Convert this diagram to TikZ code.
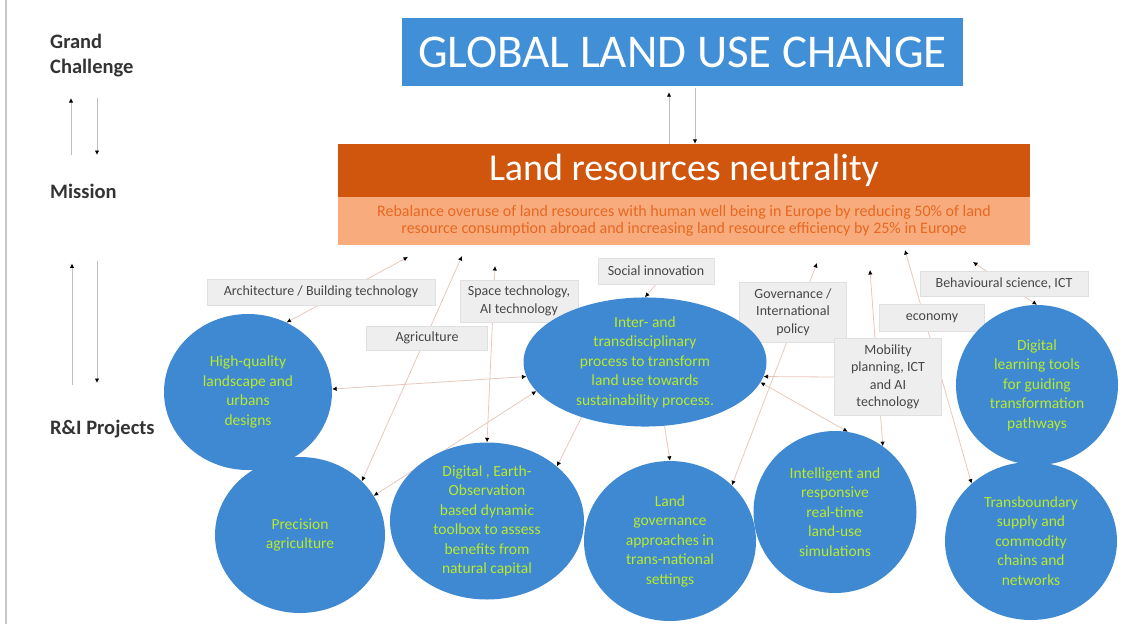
\documentclass[tikz,border=0pt]{standalone}
\usepackage{fontspec}
\setmainfont{Carlito}
\usetikzlibrary{arrows.meta,shapes.geometric,backgrounds}
\definecolor{chblue}{RGB}{65,143,215}
\definecolor{blobblue}{RGB}{62,137,209}
\definecolor{blobtext}{RGB}{186,234,44}
\definecolor{mdark}{RGB}{208,86,14}
\definecolor{mlight}{RGB}{248,172,125}
\definecolor{mtext}{RGB}{230,104,34}
\definecolor{tagfill}{RGB}{238,238,238}
\definecolor{tagline}{RGB}{224,224,224}
\definecolor{tagtext}{RGB}{70,70,70}
\definecolor{linkc}{RGB}{230,200,188}
\definecolor{barc}{RGB}{200,200,200}
\tikzset{
  lefttext/.style={font=\fontsize{20.5}{25}\selectfont\bfseries,text=black!80,inner sep=0pt,text height=14pt,text depth=4pt,align=left},
  tag/.style={rectangle,fill=tagfill,draw=tagline,text=tagtext,align=center,inner sep=2pt,font=\fontsize{14}{17.5}\selectfont},
  blob/.style={ellipse,fill=blobblue,text=blobtext,align=center,inner sep=0pt,font=\fontsize{15.5}{19.5}\selectfont},
  link/.style={draw=linkc,line width=0.8pt},
  lvl/.style={draw=black!25,line width=0.9pt},
  toend/.style={arrows={-Latex[length=4.5pt,width=4.5pt,black]}},
  ends/.style={arrows={Latex[length=4.5pt,width=4.5pt,black]-Latex[length=4.5pt,width=4.5pt,black]}},
}
\begin{document}
\begin{tikzpicture}[x=1pt,y=-1pt]
  \useasboundingbox (0,0) rectangle (1127,624);
  \draw[draw=barc,line width=2.5pt] (6,0) -- (6,624);

  \node[lefttext,anchor=south west] (gc) at (50,78) {Grand\\Challenge};
  \node[lefttext,anchor=north west] (mis) at (50,184) {Mission};
  \node[lefttext,anchor=north west] (ri) at (50,420) {R\&I Projects};
  \draw[lvl,toend,shorten <=29pt,shorten >=20pt] (mis.north -| 71,0) -- (gc.south -| 71,0);
  \draw[lvl,toend,shorten <=20pt,shorten >=29pt] (gc.south -| 97,0) -- (mis.north -| 97,0);
  \draw[lvl,toend,shorten <=35pt,shorten >=61pt] (ri.north -| 72,0) -- (mis.south -| 72,0);
  \draw[lvl,toend,shorten <=59pt,shorten >=37pt] (mis.south -| 97,0) -- (ri.north -| 97,0);

  \node[fill=chblue,minimum width=561pt,minimum height=68pt,text=white,font=\fontsize{47}{47}\selectfont] (ch) at (682.5,52) {GLOBAL LAND USE CHANGE};
  \node[fill=mdark,minimum width=692pt,minimum height=53pt,text=white,font=\fontsize{38}{38}\selectfont] (mn) at (684,170.5) {Land resources neutrality};
  \node[fill=mlight,minimum width=692pt,minimum height=48pt,text=mtext,align=center,font=\fontsize{16}{17}\selectfont] (ms) at (684,221) {Rebalance overuse of land resources with human well being in Europe by reducing 50\% of land\\resource consumption abroad and increasing land resource efficiency by 25\% in Europe};
  \draw[lvl,toend,shorten >=6pt] (mn.north -| 669,0) -- (ch.south -| 669,0);
  \draw[lvl,toend,shorten <=2pt] (ch.south -| 695,0) -- (mn.north -| 695,0);

  \node[tag,minimum width=228pt,minimum height=26pt] (arch) at (321,292) {Architecture / Building technology};
  \node[tag,minimum width=121pt,minimum height=24pt] (agri) at (427,338) {Agriculture};
  \node[tag,minimum width=118pt,minimum height=42pt] (space) at (519,301) {Space technology,\\AI technology};
  \node[tag,minimum width=116pt,minimum height=26pt] (soc) at (656,271) {Social innovation};
  \node[tag,minimum width=107pt,minimum height=60pt] (gov) at (793,312) {Governance /\\International\\policy};
  \node[tag,minimum width=105pt,minimum height=27pt] (eco) at (932,318) {economy};
  \node[tag,minimum width=107pt,minimum height=77pt] (mob) at (888,377) {Mobility\\planning, ICT\\and AI\\technology};
  \node[tag,minimum width=168pt,minimum height=25pt] (beh) at (1004,284) {Behavioural science, ICT};

  \node[blob,minimum width=168pt,minimum height=156pt] (hq) at (248,392) {High-quality\\landscape and\\urbans\\designs};
  \node[blob,minimum width=243pt,minimum height=126pt] (inter) at (645,362) {Inter- and\\transdisciplinary\\process to transform\\land use towards\\sustainability process.};
  \node[blob,minimum width=162pt,minimum height=160pt] (learn) at (1037,385) {Digital\\learning tools\\for guiding\\transformation\\pathways};
  \node[blob,minimum width=170pt,minimum height=156pt] (prec) at (300,535) {Precision\\agriculture};
  \node[blob,minimum width=194pt,minimum height=157pt] (eo) at (487,521) {Digital , Earth-\\Observation\\based dynamic\\toolbox to assess\\benefits from\\natural capital};
  \node[blob,minimum width=172pt,minimum height=160pt] (gover) at (670,541) {Land\\governance\\approaches in\\trans-national\\settings};
  \node[blob,minimum width=163pt,minimum height=162pt] (sim) at (835,512) {Intelligent and\\responsive\\real-time\\land-use\\simulations};
  \node[blob,minimum width=172pt,minimum height=158pt] (trans) at (1031,541) {Transboundary\\supply and\\commodity\\chains and\\networks};

  \coordinate (mArch) at (408,257);
  \coordinate (mAgri) at (462,256);
  \coordinate (mSpace) at (495,266);
  \coordinate (mGov) at (817,263);
  \coordinate (mMob) at (870,270);
  \coordinate (mEco) at (905,250);
  \coordinate (mBeh) at (973,262);

  \begin{scope}[on background layer]
    \draw[link,ends] (hq.61) -- (mArch);
    \draw[link,ends] (prec.41) -- (mAgri);
    \draw[link,ends] (eo.north) -- (mSpace);
    \draw[link,toend] (soc.south) -- (inter.north);
    \draw[link,ends] (hq.2) -- (inter.187);
    \draw[link,ends] (prec.28) -- (inter.195);
    \draw[link,toend] (inter.221) -- (eo.38);
    \draw[link,toend] (inter.287) -- (gover.north);
    \draw[link,ends] (gover.42) -- (mGov);
    \draw[link,toend] (mob.west) -- (inter.353);
    \draw[link,ends] (inter.350) -- (sim.81);
    \draw[link,ends] (sim.54) -- (mMob);
    \draw[link,ends] (trans.136) -- (mEco);
    \draw[link,ends] (learn.north) -- (mBeh);
  \end{scope}
\end{tikzpicture}
\end{document}
